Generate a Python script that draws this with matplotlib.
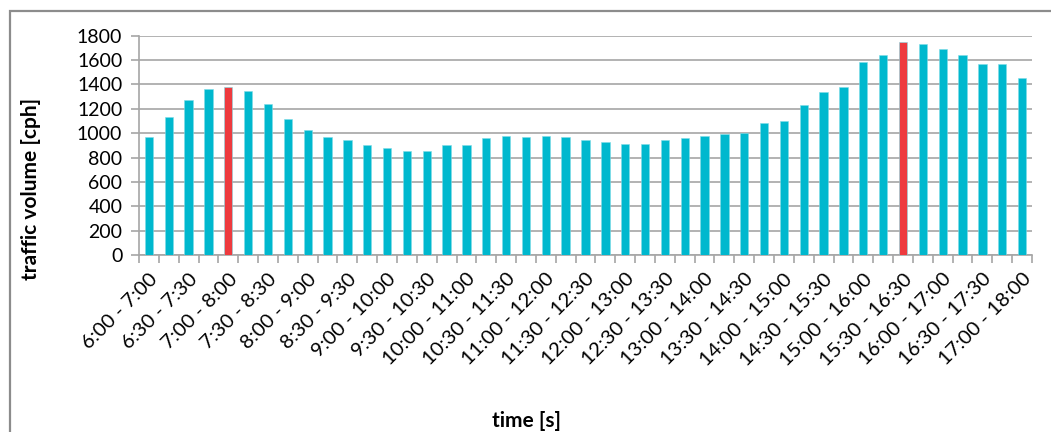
import numpy as np
import matplotlib.pyplot as plt
from matplotlib.patches import Rectangle

plt.rcParams['font.family'] = ['Lato', 'DejaVu Sans']

# start of each one-hour window, 15 min steps
starts = ['6:00', '6:15', '6:30', '6:45', '7:00', '7:15', '7:30', '7:45',
          '8:00', '8:15', '8:30', '8:45', '9:00', '9:15', '9:30', '9:45',
          '10:00', '10:15', '10:30', '10:45', '11:00', '11:15', '11:30', '11:45',
          '12:00', '12:15', '12:30', '12:45', '13:00', '13:15', '13:30', '13:45',
          '14:00', '14:15', '14:30', '14:45', '15:00', '15:15', '15:30', '15:45',
          '16:00', '16:15', '16:30', '16:45', '17:00']
ends = ['7:00', '7:15', '7:30', '7:45', '8:00', '8:15', '8:30', '8:45',
        '9:00', '9:15', '9:30', '9:45', '10:00', '10:15', '10:30', '10:45',
        '11:00', '11:15', '11:30', '11:45', '12:00', '12:15', '12:30', '12:45',
        '13:00', '13:15', '13:30', '13:45', '14:00', '14:15', '14:30', '14:45',
        '15:00', '15:15', '15:30', '15:45', '16:00', '16:15', '16:30', '16:45',
        '17:00', '17:15', '17:30', '17:45', '18:00']
volume = [970, 1135, 1270, 1360, 1375, 1350, 1240, 1120, 1030, 970,
          940, 905, 880, 850, 850, 905, 905, 960, 975, 970,
          975, 970, 940, 930, 915, 915, 940, 960, 975, 995,
          1000, 1080, 1100, 1230, 1340, 1380, 1585, 1640, 1745, 1730,
          1690, 1640, 1570, 1570, 1455]
peak_hours = ['7:00', '15:30']

labels = [s + ' - ' + e for s, e in zip(starts, ends)]
colors = ['#EE3A3E' if s in peak_hours else '#00B8CE' for s in starts]
x = np.arange(len(volume))

fig = plt.figure(figsize=(10.51, 4.32), dpi=100)
ax = fig.add_axes([139 / 1051, 1 - 255 / 432, (1032 - 139) / 1051, (255 - 35.7) / 432])

ax.bar(x, volume, width=0.42, color=colors, edgecolor='#7fdbe6', linewidth=0.4, zorder=3)

ax.set_xlim(-0.5, len(volume) - 0.5)
ax.set_ylim(0, 1800)
ax.set_yticks(np.arange(0, 1801, 200))
ax.yaxis.grid(True, color='#a6a6a6', linewidth=1.2, zorder=0)

ax.set_xticks(x[::2])
ax.set_xticklabels(labels[::2], rotation=45, ha='right', va='top',
                   rotation_mode='anchor', fontsize=14.6)
ax.tick_params(axis='x', which='major', length=0, pad=11)
ax.set_xticks(np.arange(-0.5, len(volume), 1), minor=True)
ax.tick_params(axis='x', which='minor', length=6, color='#a6a6a6', width=1.2)
ax.tick_params(axis='y', length=6, color='#a6a6a6', width=1.2, labelsize=14, pad=6)

for side in ['top', 'right']:
    ax.spines[side].set_visible(False)
ax.spines['left'].set_color('#a6a6a6')
ax.spines['bottom'].set_color('#a6a6a6')
ax.spines['left'].set_linewidth(1.2)
ax.spines['bottom'].set_linewidth(1.2)

ax.set_ylabel('traffic volume [cph]', fontsize=15, fontweight='bold')
ax.yaxis.set_label_coords(-0.11, 0.30)
fig.text(526 / 1051, 1 - 421 / 432, 'time [s]', fontsize=15, fontweight='bold',
         ha='center', va='center')

# outer chart frame (only top and left edges visible in the crop)
fig.patches.append(Rectangle((10 / 1051, -0.1), 1.2, 0.1 + 421 / 432,
                             transform=fig.transFigure, fill=False,
                             edgecolor='#8c8c8c', linewidth=1.6))

fig.savefig('out.png', dpi=100, facecolor='white')
